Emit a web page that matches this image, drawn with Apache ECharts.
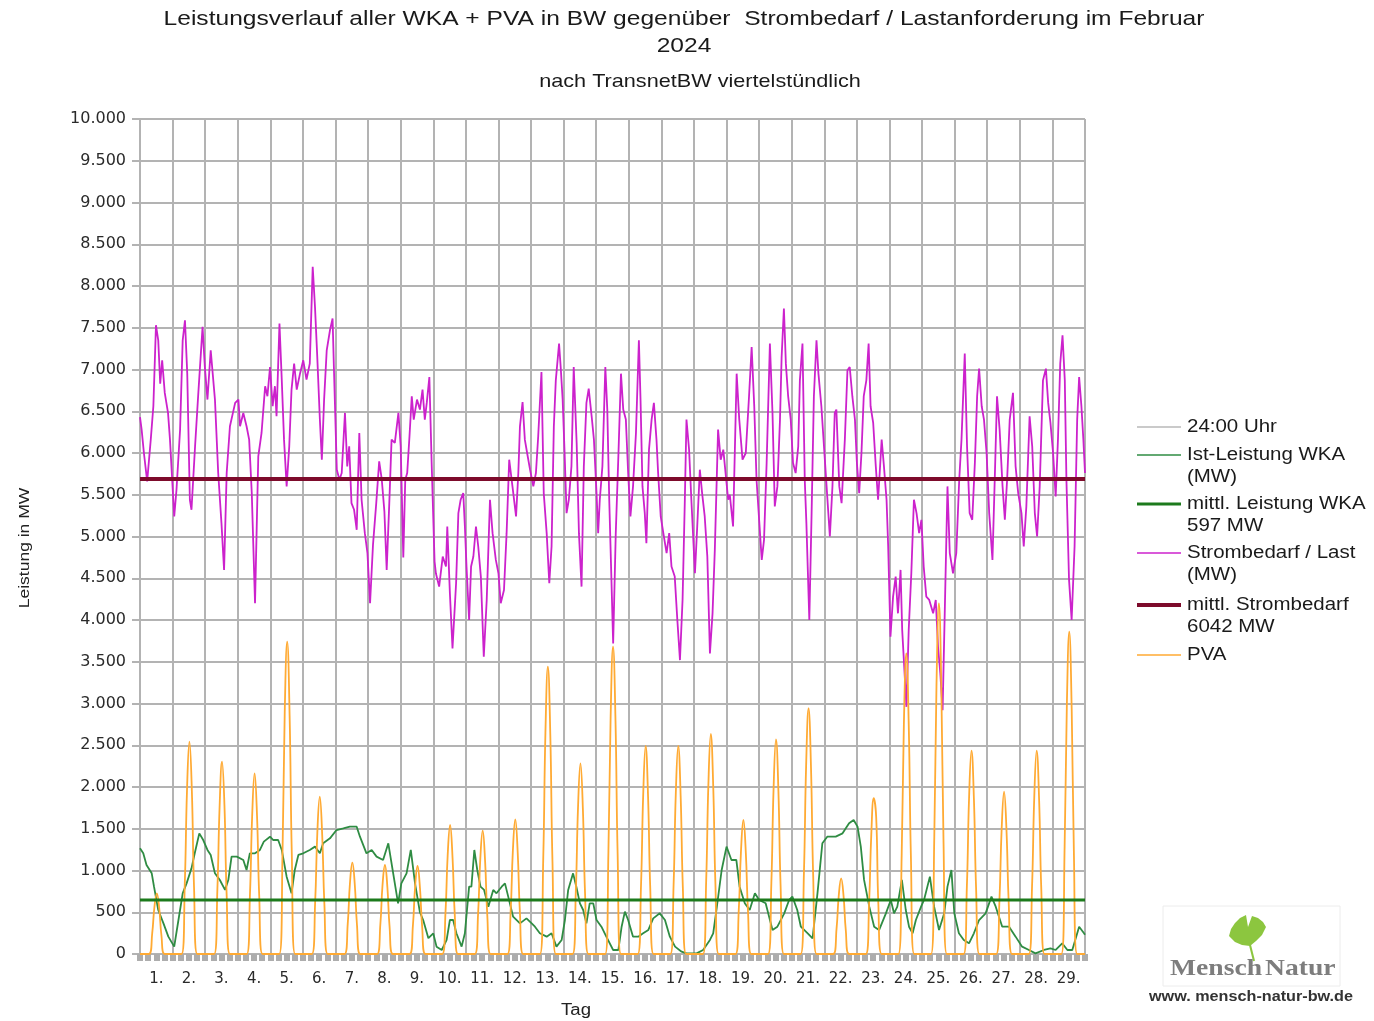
<!DOCTYPE html>
<html><head><meta charset="utf-8">
<script src="https://cdn.jsdelivr.net/npm/echarts@6/dist/echarts.min.js"></script>
<style>html,body{margin:0;padding:0;background:#fff}#c{width:1374px;height:1021px}</style>
</head><body><div id="c"></div>
<script>
// ---- categories / tick labels ----
const dayLabels = ['1.','2.','3.','4.','5.','6.','7.','8.','9.','10.','11.','12.','13.','14.','15.',
  '16.','17.','18.','19.','20.','21.','22.','23.','24.','25.','26.','27.','28.','29.'];

// ---- Strombedarf / Last (MW): [Tag seit 1.2. 0:00, MW] ----
const strombedarf = [
 [0.00,6430],[0.05,6280],[0.12,6000],[0.22,5660],[0.33,6160],[0.41,6560],[0.49,7530],[0.56,7350],[0.62,6830],[0.68,7110],[0.76,6720],[0.86,6480],[0.92,6160],
 [1.05,5240],[1.12,5560],[1.23,6280],[1.31,7350],[1.38,7590],[1.45,6950],[1.53,5440],[1.58,5320],[1.69,6080],[1.79,6720],[1.92,7510],[1.99,7030],
 [2.07,6640],[2.17,7230],[2.30,6640],[2.40,5760],[2.50,5160],[2.58,4600],[2.66,5760],[2.76,6320],[2.92,6600],
 [3.02,6640],[3.07,6320],[3.17,6480],[3.27,6320],[3.35,6160],[3.43,5520],[3.53,4200],[3.63,5960],[3.73,6240],[3.84,6800],[3.91,6680],[3.99,7030],
 [4.07,6560],[4.14,6800],[4.19,6440],[4.28,7550],[4.35,6880],[4.42,6160],[4.50,5600],[4.58,6080],[4.65,6760],[4.73,7070],[4.81,6760],[4.91,6950],
 [5.01,7110],[5.11,6880],[5.21,7070],[5.30,8230],[5.37,7750],[5.44,7150],[5.52,6400],[5.58,5920],[5.65,6640],[5.73,7230],[5.83,7470],[5.91,7610],[5.95,7030],
 [6.04,5800],[6.12,5680],[6.19,5760],[6.29,6480],[6.36,5840],[6.42,6080],[6.49,5400],[6.57,5320],[6.65,5080],[6.73,6240],[6.80,5440],[6.90,5040],[6.98,4800],
 [7.06,4200],[7.15,4900],[7.25,5400],[7.34,5900],[7.42,5680],[7.50,5300],[7.57,4600],[7.65,5400],[7.72,6160],[7.82,6120],[7.93,6480],
 [8.00,6080],[8.08,4750],[8.14,5680],[8.20,5760],[8.27,6200],[8.34,6680],[8.40,6400],[8.50,6640],[8.59,6520],[8.67,6760],[8.74,6400],[8.80,6600],[8.88,6910],[8.95,5880],
 [9.04,4700],[9.08,4560],[9.18,4400],[9.29,4760],[9.39,4640],[9.43,5120],[9.51,4320],[9.59,3660],[9.70,4440],[9.77,5280],[9.84,5440],[9.92,5520],[9.97,5120],
 [10.02,4640],[10.10,4000],[10.16,4640],[10.23,4760],[10.31,5120],[10.38,4880],[10.46,4520],[10.55,3560],[10.64,4240],[10.74,5440],[10.82,5040],[10.92,4720],
 [11.00,4560],[11.07,4200],[11.17,4360],[11.25,5040],[11.33,5920],[11.43,5600],[11.54,5240],[11.61,5760],[11.66,6320],[11.74,6610],[11.81,6160],[11.88,6000],[11.97,5800],
 [12.07,5600],[12.15,5760],[12.22,6200],[12.32,6970],[12.39,5520],[12.48,5040],[12.56,4440],[12.63,4880],[12.70,6320],[12.76,6870],[12.86,7310],[12.91,7030],[12.97,6640],
 [13.03,6000],[13.09,5280],[13.16,5440],[13.24,5840],[13.31,7030],[13.40,6120],[13.47,5040],[13.55,4400],[13.62,5840],[13.70,6600],[13.77,6770],[13.86,6440],[13.93,6160],
 [14.01,5520],[14.06,5040],[14.11,5440],[14.19,5840],[14.28,7030],[14.34,6520],[14.40,5440],[14.47,4440],[14.52,3720],[14.60,5040],[14.68,5960],[14.76,6950],[14.83,6520],[14.91,6400],[14.98,5760],
 [15.05,5240],[15.13,5600],[15.22,6240],[15.31,7350],[15.36,6640],[15.42,5600],[15.49,5280],[15.54,4920],[15.62,6040],[15.70,6400],[15.77,6600],[15.85,6160],[15.90,5760],[15.98,5240],
 [16.06,5040],[16.16,4800],[16.24,5040],[16.31,4640],[16.41,4520],[16.49,4000],[16.57,3520],[16.65,4240],[16.72,5440],[16.77,6400],[16.85,6040],[16.92,5440],
 [17.03,4560],[17.10,5120],[17.18,5800],[17.25,5520],[17.33,5240],[17.41,4760],[17.49,3600],[17.57,4080],[17.64,4840],[17.74,6280],[17.82,5920],[17.90,6040],[17.97,5760],
 [18.05,5440],[18.10,5500],[18.20,5120],[18.31,6950],[18.39,6400],[18.49,5920],[18.59,6000],[18.69,6680],[18.77,7270],[18.85,6560],[18.92,5680],
 [19.00,5200],[19.08,4720],[19.15,4960],[19.23,5880],[19.33,7310],[19.41,6480],[19.48,5360],[19.56,5600],[19.64,6400],[19.69,7150],[19.76,7730],[19.82,7070],[19.89,6680],[19.97,6400],
 [20.04,5880],[20.12,5760],[20.20,6080],[20.25,6870],[20.33,7310],[20.40,5680],[20.45,5160],[20.54,4000],[20.61,5280],[20.68,6680],[20.76,7350],[20.82,6950],[20.91,6560],[20.99,6080],
 [21.07,5600],[21.17,5000],[21.25,5600],[21.32,6480],[21.37,6520],[21.46,5600],[21.53,5400],[21.63,6160],[21.71,6990],[21.78,7030],[21.86,6680],[21.94,6400],
 [22.00,5880],[22.07,5520],[22.14,6000],[22.21,6680],[22.29,6870],[22.36,7310],[22.42,6560],[22.50,6360],[22.58,5840],[22.65,5440],[22.70,5760],[22.76,6160],[22.83,5840],[22.91,5440],[22.96,4880],
 [23.03,3800],[23.11,4280],[23.19,4520],[23.26,4080],[23.31,4400],[23.34,4600],[23.39,3880],[23.52,2960],[23.59,3880],[23.67,4560],[23.75,5440],[23.83,5280],[23.91,5040],[23.98,5200],
 [24.05,4640],[24.13,4280],[24.22,4240],[24.34,4080],[24.42,4240],[24.49,3680],[24.56,3360],[24.63,2920],[24.70,4160],[24.78,5600],[24.85,4800],[24.95,4560],
 [25.05,4800],[25.14,5680],[25.21,6160],[25.31,7190],[25.38,6080],[25.46,5280],[25.54,5200],[25.62,5880],[25.69,6680],[25.75,7010],[25.83,6560],[25.90,6400],[25.98,6000],
 [26.06,5280],[26.16,4720],[26.23,5680],[26.30,6680],[26.38,6280],[26.47,5600],[26.54,5200],[26.61,5680],[26.69,6400],[26.79,6720],[26.87,5840],[26.95,5520],
 [27.05,5280],[27.12,4880],[27.20,5360],[27.30,6440],[27.38,6080],[27.46,5280],[27.53,5000],[27.61,5600],[27.71,6870],[27.80,7010],[27.87,6600],[27.94,6360],
 [28.02,6000],[28.10,5480],[28.17,6160],[28.24,7070],[28.31,7410],[28.38,6870],[28.43,5680],[28.51,4480],[28.59,4000],[28.68,4880],[28.76,6400],[28.82,6910],[28.89,6560],[28.95,6160],[29.00,5760]
];

// ---- Ist-Leistung WKA (MW) ----
const wka = [
 [0.00,1266],[0.10,1206],[0.20,1066],[0.36,966],[0.43,806],[0.56,527],[0.72,367],[0.87,208],
 [1.05,88],[1.18,407],[1.31,727],[1.43,846],[1.58,1026],[1.68,1206],[1.82,1445],[1.94,1365],
 [2.07,1246],[2.17,1186],[2.30,966],[2.45,886],[2.61,767],[2.71,886],[2.81,1166],[2.97,1166],
 [3.17,1126],[3.27,1006],[3.37,1206],[3.53,1206],[3.68,1246],[3.80,1346],[3.99,1405],
 [4.09,1365],[4.24,1365],[4.35,1246],[4.50,926],[4.65,727],[4.75,1006],[4.86,1186],
 [5.01,1206],[5.21,1246],[5.37,1286],[5.52,1206],[5.62,1326],[5.83,1385],
 [6.03,1485],[6.24,1505],[6.44,1525],[6.65,1525],[6.75,1405],[6.95,1206],
 [7.11,1246],[7.26,1166],[7.46,1126],[7.62,1326],[7.77,966],[7.92,607],
 [8.02,846],[8.18,966],[8.31,1246],[8.44,846],[8.59,500],[8.69,407],[8.85,190],
 [9.00,247],[9.10,88],[9.26,48],[9.41,168],[9.51,407],[9.61,407],[9.71,248],[9.87,88],[9.97,248],
 [10.10,806],[10.17,806],[10.26,1246],[10.35,1006],[10.45,806],[10.56,767],[10.69,567],[10.84,767],[10.94,727],
 [11.10,806],[11.20,846],[11.30,687],[11.45,447],[11.66,367],[11.86,427],
 [12.02,367],[12.12,327],[12.27,248],[12.48,208],[12.63,248],[12.78,88],[12.94,168],
 [13.04,407],[13.14,767],[13.29,966],[13.39,806],[13.50,607],[13.60,527],[13.70,367],[13.80,607],[13.91,607],
 [14.01,407],[14.16,327],[14.31,208],[14.52,48],[14.68,48],[14.78,327],[14.88,507],[14.98,407],
 [15.13,208],[15.29,208],[15.44,248],[15.60,288],[15.75,427],[15.95,487],
 [16.11,407],[16.26,208],[16.42,88],[16.62,28],[16.77,8],
 [17.08,8],[17.28,48],[17.49,168],[17.59,248],[17.69,527],[17.85,1006],
 [18.00,1286],[18.15,1126],[18.30,1126],[18.40,806],[18.56,607],[18.71,527],[18.87,727],
 [19.00,647],[19.20,607],[19.41,287],[19.56,327],[19.77,487],[19.92,647],
 [20.02,687],[20.17,527],[20.28,327],[20.49,248],[20.64,188],[20.79,727],[20.94,1326],
 [21.09,1405],[21.35,1405],[21.56,1445],[21.76,1565],[21.90,1605],
 [22.02,1525],[22.12,1286],[22.22,887],[22.38,567],[22.53,327],[22.68,287],[22.89,487],
 [23.04,647],[23.14,487],[23.24,567],[23.38,887],[23.50,527],[23.60,327],[23.71,248],[23.81,407],[23.97,567],
 [24.06,647],[24.24,927],[24.37,567],[24.52,287],[24.68,487],[24.78,807],[24.90,1006],[24.99,487],
 [25.13,248],[25.28,168],[25.44,128],[25.59,248],[25.75,407],[25.95,487],
 [26.13,687],[26.26,567],[26.46,327],[26.67,327],[26.87,208],
 [27.07,88],[27.28,48],[27.48,8],[27.74,48],[27.94,68],
 [28.10,48],[28.30,128],[28.46,48],[28.61,48],[28.82,327],[28.97,248],[29.00,230]
];

// ---- PVA (MW): values per day at the hours below ----
const pvaHours = [6.6, 9.0, 10.6, 12.4, 14.2, 15.8, 18.2];
const pvaByDay = [
 [0,250,560,727,540,220,0],
 [0,850,1950,2544,1950,800,0],
 [0,780,1750,2304,1780,720,0],
 [0,720,1650,2164,1650,700,0],
 [0,1250,2900,3740,2850,1200,0],
 [0,620,1450,1884,1420,600,0],
 [0,360,840,1094,830,350,0],
 [0,350,820,1066,800,330,0],
 [0,340,800,1054,790,330,0],
 [0,500,1180,1545,1150,480,0],
 [0,480,1130,1477,1100,460,0],
 [0,520,1230,1613,1210,500,0],
 [0,1150,2650,3441,2620,1100,0],
 [0,760,1750,2284,1730,720,0],
 [0,1230,2820,3680,2800,1180,0],
 [0,820,1900,2491,1880,790,0],
 [0,830,1910,2491,1890,800,0],
 [0,880,2020,2635,2000,840,0],
 [0,530,1220,1605,1210,510,0],
 [0,850,1960,2571,1950,820,0],
 [0,980,2250,2943,2230,940,0],
 [0,300,690,906,690,290,0],
 [0,620,1430,1865,1640,600,0],
 [0,1200,2750,3600,2730,1150,0],
 [0,1400,3200,4199,3180,1340,0],
 [0,810,1860,2435,1850,780,0],
 [0,650,1490,1944,1470,620,0],
 [0,810,1860,2435,1850,780,0],
 [0,1290,2950,3860,2930,1230,0]
];

// ---- mean lines (level as drawn) and legend labels ----
const meanWka = [[0,647],[29,647]];
const meanLast = [[0,5690],[29,5690]];
const legendItems = [
 {lines:['24:00 Uhr'], color:'#b8b8b8', width:1.5},
 {lines:['Ist-Leistung WKA','(MW)'], color:'#2f8c43', width:1.5},
 {lines:['mittl. Leistung WKA','597 MW'], color:'#1c7a1c', width:3},
 {lines:['Strombedarf / Last','(MW)'], color:'#cc22cc', width:1.5},
 {lines:['mittl. Strombedarf','6042 MW'], color:'#7d0b2b', width:4},
 {lines:['PVA'], color:'#ffaa33', width:1.5}
];
const legendY = [427, 455, 504, 553, 605, 655];

const pvaData = [[0,0]];
pvaByDay.forEach((vals, d) => vals.forEach((v, i) => pvaData.push([d + pvaHours[i] / 24, v])));
pvaData.push([29,0]);

const chart = echarts.init(document.getElementById('c'), null, {renderer:'canvas'});
const gridColor = '#b3b3b3';
const fmt = v => String(v).replace(/\B(?=(\d{3})+(?!\d))/g, '.');

const graphics = [];
function txt(x, y, text, size, opts) {
  opts = opts || {};
  graphics.push({type:'text', x:x, y:y, scaleX: opts.scaleX || 1.16, rotation: opts.rotation || 0,
    style:{text:text, fontSize:size, fontFamily: opts.family || 'Liberation Sans', fontWeight: opts.weight || 'normal',
      fill: opts.fill || '#1a1a1a', align: opts.align || 'left', textAlign: opts.align || 'left',
      verticalAlign:'middle', textVerticalAlign:'middle'}});
}
txt(684, 19, 'Leistungsverlauf aller WKA + PVA in BW gegenüber  Strombedarf / Lastanforderung im Februar', 21, {align:'center', scaleX:1.17});
txt(684, 46, '2024', 21, {align:'center', scaleX:1.17});
txt(700, 82, 'nach TransnetBW viertelstündlich', 18.5, {align:'center', scaleX:1.17});
txt(25, 548, 'Leistung in MW', 14, {align:'center', rotation:Math.PI/2, scaleX:1.25, fill:'#222'});
txt(576, 1011, 'Tag', 16, {align:'center', fill:'#222'});

legendItems.forEach((it, k) => {
  const y = legendY[k];
  graphics.push({type:'line', shape:{x1:1137, y1:y, x2:1181, y2:y}, style:{stroke:it.color, lineWidth:it.width}});
  it.lines.forEach((l, j) => txt(1187, y + j * 22, l, 17.5, {fill:'#1a1a1a', scaleX:1.17}));
});

// logo
graphics.push({type:'rect', shape:{x:1163, y:906, width:177, height:80}, style:{fill:'none', stroke:'#ececec', lineWidth:1}});
graphics.push({type:'polygon', shape:{points:[[1250,946],[1242,945],[1235,942],[1229,936],[1231,929],[1235,923],[1240,918],[1246,915],[1248,927],[1252,916],[1258,918],[1263,922],[1266,927],[1262,935],[1256,941]]},
  style:{fill:'#8cc63f'}});
graphics.push({type:'line', shape:{x1:1250, y1:945, x2:1254, y2:961}, style:{stroke:'#8cc63f', lineWidth:2}});
txt(1170, 969, 'Mensch', 24, {family:'Liberation Serif', fill:'#7d7d7d', scaleX:1.15, weight:'bold'});
txt(1265, 969, 'Natur', 24, {family:'Liberation Serif', fill:'#7d7d7d', scaleX:1.15, weight:'bold'});
txt(1251, 997, 'www. mensch-natur-bw.de', 15, {align:'center', fill:'#333', scaleX:1.08, weight:'bold'});

const lineBase = {type:'line', xAxisIndex:1, symbol:'none', animation:false};
chart.setOption({
  animation:false,
  backgroundColor:'#ffffff',
  grid:{left:140, top:119, width:945, height:835, containLabel:false},
  xAxis:[
    {type:'category', data:dayLabels, boundaryGap:true, position:'bottom',
     axisLine:{show:true, lineStyle:{color:gridColor, width:2}}, axisTick:{show:false},
     axisLabel:{interval:0, margin:18, fontFamily:'DejaVu Sans', fontSize:15, color:'#2a2a2a'},
     splitLine:{show:true, interval:0, lineStyle:{color:gridColor, width:2}}},
    {type:'value', min:0, max:29, interval:0.25, position:'bottom',
     axisLine:{show:false}, axisLabel:{show:false}, splitLine:{show:false},
     axisTick:{show:true, length:7, lineStyle:{color:'#adadad', width:6}}}
  ],
  yAxis:{type:'value', min:0, max:10000, interval:500,
     axisLine:{show:true, lineStyle:{color:gridColor, width:2}},
     axisTick:{show:true, length:8, lineStyle:{color:gridColor, width:2}},
     axisLabel:{margin:14, fontFamily:'DejaVu Sans', fontSize:16, color:'#2a2a2a', formatter:fmt},
     splitLine:{show:true, lineStyle:{color:gridColor, width:2}}},
  graphic:{elements:graphics},
  series:[
    Object.assign({}, lineBase, {name:'Ist-Leistung WKA', data:wka, lineStyle:{color:'#2f8c43', width:1.8}, z:3}),
    Object.assign({}, lineBase, {name:'Strombedarf / Last', data:strombedarf, lineStyle:{color:'#cc22cc', width:1.8}, z:4}),
    Object.assign({}, lineBase, {name:'PVA', data:pvaData, smooth:0.45, lineStyle:{color:'#ffaa33', width:1.8}, z:5}),
    Object.assign({}, lineBase, {name:'mittl. Leistung WKA', data:meanWka, lineStyle:{color:'#1c7a1c', width:3}, z:6}),
    Object.assign({}, lineBase, {name:'mittl. Strombedarf', data:meanLast, lineStyle:{color:'#7d0b2b', width:4}, z:7})
  ]
});
</script></body></html>
